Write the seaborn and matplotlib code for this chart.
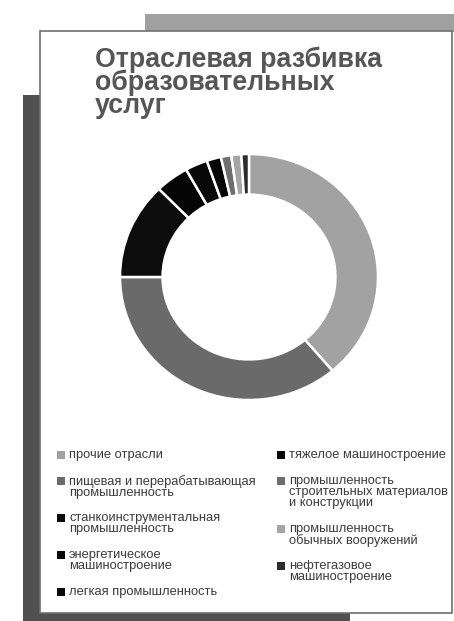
import matplotlib
matplotlib.use("Agg")
import matplotlib.pyplot as plt
from matplotlib.patches import Rectangle
import seaborn as sns
import pandas as pd

sns.set_theme(style="white")
plt.rcParams['font.family'] = ['Liberation Sans', 'DejaVu Sans']

# ---- data ----
categories = [
    "прочие отрасли",
    "пищевая и перерабатывающая\nпромышленность",
    "станкоинструментальная\nпромышленность",
    "энергетическое\nмашиностроение",
    "легкая промышленность",
    "тяжелое машиностроение",
    "промышленность\nстроительных материалов\nи конструкции",
    "промышленность\nобычных вооружений",
    "нефтегазовое\nмашиностроение",
]
shares = [38.8, 36.2, 12.7, 4.2, 2.8, 1.8, 1.3, 1.25, 0.95]
colors = ["#a2a2a2", "#6a6a6a", "#0c0c0c", "#050505", "#080808",
          "#060606", "#6e6e6e", "#a6a6a6", "#2c2c2c"]
title = "Отраслевая разбивка\nобразовательных\nуслуг"

df = pd.DataFrame({"category": categories, "share": shares, "color": colors})

W, H = 454, 621
fig = plt.figure(figsize=(W / 100, H / 100), dpi=100)

# background axes in pixel coordinates
bg = fig.add_axes([0, 0, 1, 1])
bg.set_xlim(0, W)
bg.set_ylim(H, 0)
bg.axis("off")

bg.add_patch(Rectangle((145, 14), 309, 18, facecolor="#a0a0a0", edgecolor="none"))
bg.add_patch(Rectangle((23, 95), 327, 530, facecolor="#505050", edgecolor="none"))
bg.add_patch(Rectangle((40, 31), 412, 582, facecolor="white", edgecolor="#707070", linewidth=1.2))

bg.text(95, 47, title, fontsize=19.3, fontweight="bold", color="#565656",
        va="top", ha="left", linespacing=0.82)

# legend (two columns, entries top-aligned)
def draw_column(rows, x0, y0, lh=11.0, gap=15.0):
    y = y0
    for _, r in rows.iterrows():
        nl = r["category"].count("\n") + 1
        bg.add_patch(Rectangle((x0, y + 1.5), 8, 8, facecolor=r["color"], edgecolor="none"))
        bg.text(x0 + 12, y, r["category"], fontsize=9.3, color="#3c3c3c",
                va="top", ha="left", linespacing=0.9,
                family=["Liberation Sans Narrow", "Liberation Sans", "DejaVu Sans"])
        y += nl * lh + gap

draw_column(df.iloc[:5], 57, 449)
draw_column(df.iloc[5:], 277, 449)

# donut
cx, cy, rx, ry = 249, 277, 129, 123
ax = fig.add_axes([(cx - rx) / W, 1 - (cy + ry) / H, 2 * rx / W, 2 * ry / H])
ax.pie(df["share"], colors=df["color"], startangle=90, counterclock=False,
       wedgeprops=dict(width=0.33, edgecolor="white", linewidth=1.8))
ax.set_aspect("auto")
ax.set_xlim(-1, 1)
ax.set_ylim(-1, 1)
ax.axis("off")

fig.savefig("out.png", dpi=100)
